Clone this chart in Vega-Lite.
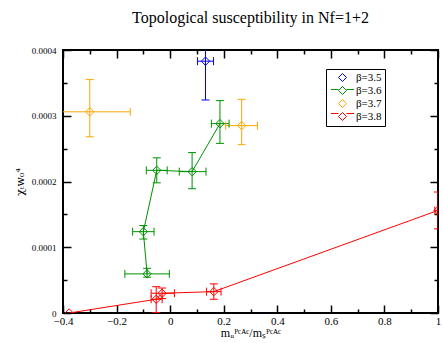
{
  "$schema": "https://vega.github.io/schema/vega-lite/v6.json",
  "width": 375,
  "height": 263,
  "autosize": "none",
  "padding": {"left": 63, "top": 50, "right": 5, "bottom": 30},
  "background": "white",
  "config": {
    "view": {"stroke": "black", "strokeWidth": 2},
    "font": "Liberation Serif",
    "axis": {"zindex": 2}
  },
  "title": {"text": "Topological susceptibility in Nf=1+2", "font": "Liberation Serif", "fontSize": 16, "fontWeight": "normal", "color": "black", "anchor": "middle", "offset": 20},
  "datasets": {
    "pts": [
      {"beta": "β=3.5", "ord": 1, "x": 0.132, "y": 0.000383, "xlo": 0.102, "xhi": 0.162, "ylo": 0.000324, "yhi": 0.000442},
      {"beta": "β=3.6", "ord": 1, "x": -0.086, "y": 0.0000595, "xlo": -0.169, "xhi": -0.003, "ylo": 0.0000545, "yhi": 0.000068},
      {"beta": "β=3.6", "ord": 2, "x": -0.1, "y": 0.0001237, "xlo": -0.14, "xhi": -0.06, "ylo": 0.0001125, "yhi": 0.000133},
      {"beta": "β=3.6", "ord": 3, "x": -0.05, "y": 0.000217, "xlo": -0.089, "xhi": -0.011, "ylo": 0.000198, "yhi": 0.000236},
      {"beta": "β=3.6", "ord": 4, "x": 0.082, "y": 0.000215, "xlo": 0.034, "xhi": 0.134, "ylo": 0.000189, "yhi": 0.000244},
      {"beta": "β=3.6", "ord": 5, "x": 0.186, "y": 0.000288, "xlo": 0.154, "xhi": 0.22, "ylo": 0.000258, "yhi": 0.000323},
      {"beta": "β=3.7", "ord": 1, "x": -0.3, "y": 0.000306, "xlo": -0.45, "xhi": -0.149, "ylo": 0.000268, "yhi": 0.000355},
      {"beta": "β=3.7", "ord": 2, "x": 0.267, "y": 0.000285, "xlo": 0.207, "xhi": 0.326, "ylo": 0.000256, "yhi": 0.000325},
      {"beta": "β=3.8", "ord": 1, "x": -0.377, "y": 0, "xlo": null, "xhi": null, "ylo": null, "yhi": null},
      {"beta": "β=3.8", "ord": 2, "x": -0.052, "y": 0.0000209, "xlo": -0.071, "xhi": -0.03, "ylo": 0.0000005, "yhi": 0.00004},
      {"beta": "β=3.8", "ord": 3, "x": -0.03, "y": 0.00003, "xlo": -0.071, "xhi": 0.016, "ylo": 0.000022, "yhi": 0.000038},
      {"beta": "β=3.8", "ord": 4, "x": 0.163, "y": 0.0000325, "xlo": 0.136, "xhi": 0.19, "ylo": 0.0000209, "yhi": 0.0000443},
      {"beta": "β=3.8", "ord": 5, "x": 1.0, "y": 0.000156, "xlo": 0.988, "xhi": 1.012, "ylo": 0.000128, "yhi": 0.000184}
    ]
  },
  "layer": [
    {
      "data": {"name": "pts"},
      "mark": {"type": "rule", "strokeWidth": 1, "clip": true},
      "encoding": {
        "x": {"field": "xlo", "type": "quantitative", "axis": null},
        "x2": {"field": "xhi"},
        "y": {"field": "y", "type": "quantitative", "axis": null},
        "stroke": {"field": "beta", "type": "nominal", "legend": null,
          "scale": {"range": ["#0000ff", "#009000", "#ffa500", "#ff0000"]}}
      }
    },
    {
      "data": {"name": "pts"},
      "mark": {"type": "rule", "strokeWidth": 1, "clip": true},
      "encoding": {
        "x": {"field": "x", "type": "quantitative", "axis": null},
        "y": {"field": "ylo", "type": "quantitative", "axis": null},
        "y2": {"field": "yhi"},
        "stroke": {"field": "beta", "type": "nominal", "legend": null,
          "scale": {"range": ["#0000ff", "#009000", "#ffa500", "#ff0000"]}}
      }
    },
    {
      "data": {"name": "pts"},
      "mark": {"type": "point", "shape": "stroke", "angle": 90, "size": 64, "filled": false, "strokeWidth": 1, "opacity": 1, "clip": true},
      "encoding": {
        "x": {"field": "xlo", "type": "quantitative", "axis": null},
        "y": {"field": "y", "type": "quantitative", "axis": null},
        "stroke": {"field": "beta", "type": "nominal", "legend": null,
          "scale": {"range": ["#0000ff", "#009000", "#ffa500", "#ff0000"]}}
      }
    },
    {
      "data": {"name": "pts"},
      "mark": {"type": "point", "shape": "stroke", "angle": 90, "size": 64, "filled": false, "strokeWidth": 1, "opacity": 1, "clip": true},
      "encoding": {
        "x": {"field": "xhi", "type": "quantitative", "axis": null},
        "y": {"field": "y", "type": "quantitative", "axis": null},
        "stroke": {"field": "beta", "type": "nominal", "legend": null,
          "scale": {"range": ["#0000ff", "#009000", "#ffa500", "#ff0000"]}}
      }
    },
    {
      "data": {"name": "pts"},
      "mark": {"type": "point", "shape": "stroke", "size": 64, "filled": false, "strokeWidth": 1, "opacity": 1, "clip": true},
      "encoding": {
        "x": {"field": "x", "type": "quantitative", "axis": null},
        "y": {"field": "ylo", "type": "quantitative", "axis": null},
        "stroke": {"field": "beta", "type": "nominal", "legend": null,
          "scale": {"range": ["#0000ff", "#009000", "#ffa500", "#ff0000"]}}
      }
    },
    {
      "data": {"name": "pts"},
      "mark": {"type": "point", "shape": "stroke", "size": 64, "filled": false, "strokeWidth": 1, "opacity": 1, "clip": true},
      "encoding": {
        "x": {"field": "x", "type": "quantitative", "axis": null},
        "y": {"field": "yhi", "type": "quantitative", "axis": null},
        "stroke": {"field": "beta", "type": "nominal", "legend": null,
          "scale": {"range": ["#0000ff", "#009000", "#ffa500", "#ff0000"]}}
      }
    },
    {
      "data": {"name": "pts"},
      "transform": [{"filter": "datum.beta == 'β=3.6' || datum.beta == 'β=3.8'"}],
      "mark": {"type": "line", "strokeWidth": 1, "clip": true},
      "encoding": {
        "x": {"field": "x", "type": "quantitative", "axis": null},
        "y": {"field": "y", "type": "quantitative", "axis": null},
        "order": {"field": "ord", "type": "quantitative"},
        "detail": {"field": "beta", "type": "nominal"},
        "stroke": {"field": "beta", "type": "nominal", "legend": null,
          "scale": {"range": ["#0000ff", "#009000", "#ffa500", "#ff0000"]}}
      }
    },
    {
      "data": {"name": "pts"},
      "mark": {"type": "point", "shape": "diamond", "filled": false, "size": 70, "strokeWidth": 1, "opacity": 1, "clip": true},
      "encoding": {
        "x": {"field": "x", "type": "quantitative",
          "scale": {"domain": [-0.4, 1], "nice": false, "zero": false},
          "axis": {
            "orient": "bottom", "offset": -8, "tickSize": 8,
            "values": [-0.4, -0.2, 0, 0.2, 0.4, 0.6, 0.8, 1],
            "title": "mᵤᴾᶜᴬᶜ/mₛᴾᶜᴬᶜ",
            "labelExpr": "datum.value == 0 ? '0' : (datum.value == 1 ? '1' : format(datum.value, '.1f'))",
            "domain": false, "grid": false, "ticks": true, "tickColor": "black", "tickWidth": 1.5,
            "labelFont": "Liberation Serif", "labelFontSize": 11, "labelColor": "black", "labelPadding": 2,
            "labelFlush": false, "labelOverlap": false,
            "titleFont": "Liberation Serif", "titleFontSize": 12, "titleFontWeight": "normal", "titleColor": "black", "titlePadding": 1
          }},
        "y": {"field": "y", "type": "quantitative",
          "scale": {"domain": [0, 0.0004], "nice": false, "zero": false},
          "axis": {
            "orient": "left", "offset": -8, "tickSize": 8,
            "values": [0, 0.0001, 0.0002, 0.0003, 0.0004],
            "title": "χₜw₀⁴",
            "labelExpr": "datum.value == 0 ? '0' : format(datum.value, '.4f')",
            "domain": false, "grid": false, "ticks": true, "tickColor": "black", "tickWidth": 1.5,
            "labelFont": "Liberation Serif", "labelFontSize": 9, "labelColor": "black", "labelPadding": 7,
            "labelFlush": false, "labelOverlap": false,
            "titleFont": "DejaVu Serif", "titleFontSize": 11, "titleFontWeight": "normal", "titleColor": "black", "titlePadding": 6
          }},
        "stroke": {"field": "beta", "type": "nominal", "legend": null,
          "scale": {"range": ["#0000ff", "#009000", "#ffa500", "#ff0000"]}}
      }
    },
    {
      "data": {"name": "pts"},
      "transform": [{"filter": "false"}],
      "mark": {"type": "point", "filled": false, "strokeWidth": 1},
      "encoding": {
        "x": {"field": "x", "type": "quantitative", "axis": null},
        "y": {"field": "y", "type": "quantitative", "axis": null},
        "color": {"field": "beta", "type": "nominal",
          "scale": {"domain": ["β=3.5", "β=3.6", "β=3.7", "β=3.8"], "range": ["#0000ff", "#009000", "#ffa500", "#ff0000"]},
          "legend": {"orient": "none", "legendX": 263, "legendY": 19, "title": null, "strokeColor": "black", "fillColor": "transparent", "padding": 3,
            "labelFont": "Liberation Serif", "labelFontSize": 11, "labelColor": "black",
            "symbolType": "M0,-0.8L0.8,0L0,0.8L-0.8,0Z", "symbolSize": 100, "symbolStrokeWidth": 1, "symbolOpacity": 1, "symbolFillColor": "transparent",
            "rowPadding": 0, "symbolOffset": 8, "labelOffset": 8, "zindex": 0}}
      }
    },
    {
      "data": {"name": "pts"},
      "transform": [{"filter": "false"}],
      "mark": {"type": "point", "filled": true, "strokeWidth": 0},
      "encoding": {
        "x": {"field": "x", "type": "quantitative", "axis": null},
        "y": {"field": "y", "type": "quantitative", "axis": null},
        "fill": {"field": "beta", "type": "nominal",
          "scale": {"domain": ["β=3.6", "β=3.8", "β=3.5", "β=3.7"], "range": ["#009000", "#ff0000", "transparent", "transparent"]},
          "legend": {"orient": "none", "legendX": 263, "legendY": 19, "title": null, "strokeColor": "transparent", "fillColor": "transparent", "padding": 3,
            "values": ["β=3.5", "β=3.6", "β=3.7", "β=3.8"],
            "labelFont": "Liberation Serif", "labelFontSize": 11, "labelColor": "transparent", "labelOpacity": 0,
            "symbolType": "M-2.3,-0.12L-0.8,-0.12L-0.8,0.12L-2.3,0.12ZM0.8,-0.12L2.3,-0.12L2.3,0.12L0.8,0.12Z", "symbolSize": 100, "symbolStrokeWidth": 0, "symbolStrokeColor": "transparent", "symbolOpacity": 1,
            "rowPadding": 0, "symbolOffset": 8, "labelOffset": 8, "zindex": 1}}
      }
    },
    {
      "data": {"name": "pts"},
      "transform": [{"filter": "false"}],
      "mark": {"type": "point"},
      "encoding": {
        "x": {"field": "x", "type": "quantitative",
          "axis": {"orient": "top", "offset": -8, "tickSize": 8, "values": [-0.4, -0.2, 0, 0.2, 0.4, 0.6, 0.8, 1], "labels": false, "title": null, "domain": false, "grid": false,
            "ticks": true, "tickColor": "black", "tickWidth": 1.5}},
        "y": {"field": "y", "type": "quantitative",
          "axis": {"orient": "right", "offset": -8, "tickSize": 8, "values": [0, 0.0001, 0.0002, 0.0003, 0.0004], "labels": false, "title": null, "domain": false, "grid": false,
            "ticks": true, "tickColor": "black", "tickWidth": 1.5}}
      }
    },
    {
      "data": {"name": "pts"},
      "transform": [{"filter": "false"}],
      "mark": {"type": "point"},
      "encoding": {
        "x": {"field": "x", "type": "quantitative",
          "axis": {"orient": "bottom", "offset": -4, "tickSize": 4, "values": [-0.3, -0.1, 0.1, 0.3, 0.5, 0.7, 0.9], "labels": false, "title": null, "domain": false, "grid": false,
            "ticks": true, "tickColor": "black", "tickWidth": 1.5}},
        "y": {"field": "y", "type": "quantitative",
          "axis": {"orient": "left", "offset": -4, "tickSize": 4, "values": [0.00005, 0.00015, 0.00025, 0.00035], "labels": false, "title": null, "domain": false, "grid": false,
            "ticks": true, "tickColor": "black", "tickWidth": 1.5}}
      }
    },
    {
      "data": {"name": "pts"},
      "transform": [{"filter": "false"}],
      "mark": {"type": "point"},
      "encoding": {
        "x": {"field": "x", "type": "quantitative",
          "axis": {"orient": "top", "offset": -4, "tickSize": 4, "values": [-0.3, -0.1, 0.1, 0.3, 0.5, 0.7, 0.9], "labels": false, "title": null, "domain": false, "grid": false,
            "ticks": true, "tickColor": "black", "tickWidth": 1.5}},
        "y": {"field": "y", "type": "quantitative",
          "axis": {"orient": "right", "offset": -4, "tickSize": 4, "values": [0.00005, 0.00015, 0.00025, 0.00035], "labels": false, "title": null, "domain": false, "grid": false,
            "ticks": true, "tickColor": "black", "tickWidth": 1.5}}
      }
    }
  ],
  "resolve": {"axis": {"x": "independent", "y": "independent"}}
}
